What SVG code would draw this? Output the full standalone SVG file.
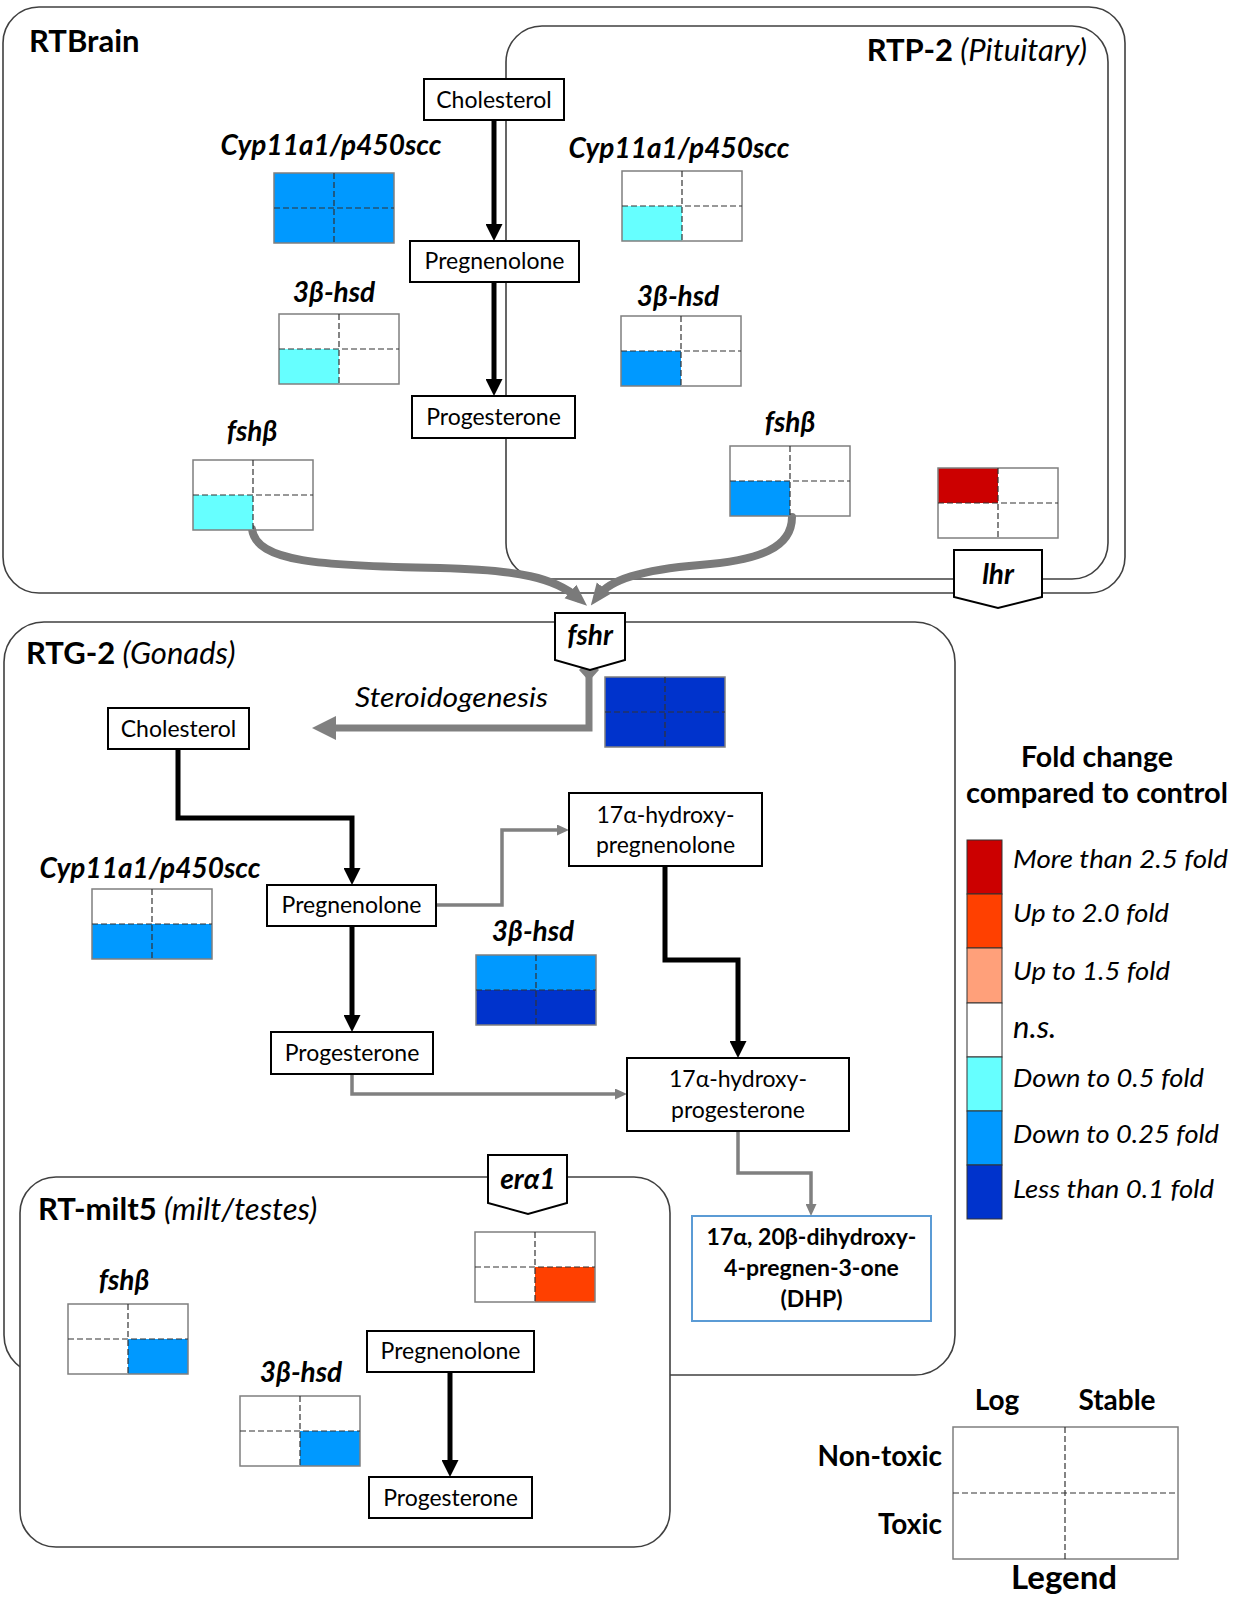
<svg xmlns="http://www.w3.org/2000/svg" width="1239" height="1598" viewBox="0 0 1239 1598">
<style>
text{font-family:Lato,"Open Sans","Noto Sans",sans-serif;fill:#000}
.region{fill:#fff;stroke:#404040;stroke-width:1.6}
.box{fill:#fff;stroke:#000;stroke-width:2}
.dhp{fill:#fff;stroke:#5B9BD5;stroke-width:2}
.node{font-size:23px;text-anchor:middle}
.bnode{font-size:23px;font-weight:bold;text-anchor:middle}
.gene{font-size:28px;font-weight:bold;font-style:italic;text-anchor:middle}
.rec{font-size:28px;font-weight:bold;font-style:italic;text-anchor:middle}
.title{font-size:31px;font-weight:bold}
.sub{font-size:31px;font-weight:normal;font-style:italic}
.leg{font-size:26px;font-style:italic}
.legb{font-size:28px;font-weight:bold}
.hm-border{fill:none;stroke:#7f7f7f;stroke-width:1.5}
.hm-dash{stroke:#333;stroke-width:1.2;stroke-dasharray:6 3;fill:none}
.c0{fill:#fff}.c1{fill:#66FFFF}.c2{fill:#0099FF}.c3{fill:#0033CC}.c4{fill:#CC0000}.c5{fill:#FF4000}.c6{fill:#FFA07A}
.blk{fill:none;stroke:#000;stroke-width:5}
.gry{fill:none;stroke:#808080;stroke-width:3.5}
.gryw{fill:none;stroke:#808080;stroke-width:7}
.curve{fill:none;stroke:#7a7a7a;stroke-width:8;stroke-linecap:round}
.bar{stroke:#333;stroke-width:1}
</style>
<defs>
<marker id="ahBlack" markerUnits="userSpaceOnUse" viewBox="0 0 17 17" markerWidth="17" markerHeight="17" refX="9" refY="8.5" orient="auto"><path d="M0,0 L17,8.5 L0,17 z" fill="#000"/></marker>
<marker id="ahGray" markerUnits="userSpaceOnUse" viewBox="0 0 12 11" markerWidth="12" markerHeight="11" refX="6" refY="5.5" orient="auto"><path d="M0,0 L12,5.5 L0,11 z" fill="#808080"/></marker>
<marker id="ahGrayBig" markerUnits="userSpaceOnUse" viewBox="0 0 24 24" markerWidth="24" markerHeight="24" refX="12" refY="12" orient="auto"><path d="M0,0 L24,12 L0,24 z" fill="#808080"/></marker>
<marker id="ahCurve" markerUnits="userSpaceOnUse" viewBox="0 0 22 20" markerWidth="22" markerHeight="20" refX="10" refY="10" orient="auto"><path d="M0,1 L22,10 L0,19 z" fill="#7a7a7a"/></marker>
<g id="hmGrid">
<rect class="hm-border" x="0" y="0" width="120" height="70"/>
<line class="hm-dash" x1="60" y1="0" x2="60" y2="70"/>
<line class="hm-dash" x1="0" y1="35" x2="120" y2="35"/>
</g>
</defs>

<!-- regions -->
<g id="region-RTBrain">
<rect class="region" x="3" y="7" width="1122" height="586" rx="36"/>
<text x="29" y="52" class="title">RTBrain</text>
</g>
<g id="region-RTP2">
<rect class="region" x="506" y="26" width="602" height="553" rx="36"/>
<text x="1087" y="61" text-anchor="end"><tspan class="title">RTP-2</tspan><tspan class="sub"> (Pituitary)</tspan></text>
</g>
<g id="region-RTG2">
<rect class="region" x="4" y="622" width="951" height="753" rx="40"/>
<text x="26" y="664"><tspan class="title">RTG-2</tspan><tspan class="sub"> (Gonads)</tspan></text>
</g>
<g id="region-RTmilt5">
<rect class="region" x="20" y="1177" width="650" height="370" rx="36"/>
<text x="38" y="1220"><tspan class="title">RT-milt5</tspan><tspan class="sub"> (milt/testes)</tspan></text>
</g>

<!-- connectors -->
<g id="connectors">
<path class="blk" d="M494 120 L494 233" marker-end="url(#ahBlack)"/>
<path class="blk" d="M494 282 L494 388" marker-end="url(#ahBlack)"/>
<path class="curve" d="M252 529 C256 562 320 566 440 568 C520 570 555 578 578 598" marker-end="url(#ahCurve)"/>
<path class="curve" d="M792 517 C792 548 760 560 700 565 C640 570 610 580 598 596" marker-end="url(#ahCurve)"/>
<path class="gryw" d="M589 672 L589 728 L324 728" marker-end="url(#ahGrayBig)"/>
<path d="M589 660 L599 670 L589 681 L579 670 z" fill="#808080"/>
<path class="blk" d="M178 749 L178 818 L352 818 L352 877" marker-end="url(#ahBlack)"/>
<path class="blk" d="M352 926 L352 1024" marker-end="url(#ahBlack)"/>
<path class="gry" d="M436 905 L502 905 L502 830 L563 830" marker-end="url(#ahGray)"/>
<path class="blk" d="M665 866 L665 960 L738 960 L738 1050" marker-end="url(#ahBlack)"/>
<path class="gry" d="M352 1074 L352 1094 L621 1094" marker-end="url(#ahGray)"/>
<path class="gry" d="M738 1131 L738 1173 L811 1173 L811 1210" marker-end="url(#ahGray)"/>
<path class="blk" d="M450 1372 L450 1469" marker-end="url(#ahBlack)"/>
</g>

<!-- RTBrain / RTP-2 nodes -->
<g id="top-cholesterol"><rect class="box" x="424" y="79" width="140" height="41"/><text class="node" x="494" y="108">Cholesterol</text></g>
<g id="top-pregnenolone"><rect class="box" x="410" y="241" width="169" height="41"/><text class="node" x="494.5" y="269">Pregnenolone</text></g>
<g id="top-progesterone"><rect class="box" x="412" y="396" width="163" height="42"/><text class="node" x="493.5" y="425">Progesterone</text></g>

<g id="brain-cyp"><text class="gene" x="331" y="155">Cyp11a1/p450scc</text>
<g transform="translate(274,173)"><rect class="c2" width="120" height="70"/><use href="#hmGrid"/></g></g>
<g id="brain-3bhsd"><text class="gene" x="334" y="302">3β-hsd</text>
<g transform="translate(279,314)"><rect class="c1" x="0" y="35" width="60" height="35"/><use href="#hmGrid"/></g></g>
<g id="brain-fshb"><text class="gene" x="252" y="441">fshβ</text>
<g transform="translate(193,460)"><rect class="c1" x="0" y="35" width="60" height="35"/><use href="#hmGrid"/></g></g>

<g id="rtp-cyp"><text class="gene" x="679" y="158">Cyp11a1/p450scc</text>
<g transform="translate(622,171)"><rect class="c1" x="0" y="35" width="60" height="35"/><use href="#hmGrid"/></g></g>
<g id="rtp-3bhsd"><text class="gene" x="678" y="306">3β-hsd</text>
<g transform="translate(621,316)"><rect class="c2" x="0" y="35" width="60" height="35"/><use href="#hmGrid"/></g></g>
<g id="rtp-fshb"><text class="gene" x="790" y="432">fshβ</text>
<g transform="translate(730,446)"><rect class="c2" x="0" y="35" width="60" height="35"/><use href="#hmGrid"/></g></g>
<g id="rtp-lhr">
<g transform="translate(938,468)"><rect class="c4" x="0" y="0" width="60" height="35"/><use href="#hmGrid"/></g>
<path class="box" d="M954 550 L1042 550 L1042 597 L998 608 L954 597 z"/>
<text class="rec" x="998" y="584">lhr</text>
</g>

<!-- RTG-2 nodes -->
<g id="fshr">
<path class="box" d="M555 613 L625 613 L625 660 L590 670 L555 660 z"/>
<text class="rec" x="590" y="645">fshr</text>
<g transform="translate(605,677)"><rect class="c3" width="120" height="70"/><use href="#hmGrid"/></g>
</g>
<g id="steroidogenesis-label"><text x="355" y="707" textLength="193" lengthAdjust="spacingAndGlyphs" style="font-size:27px;font-style:italic">Steroidogenesis</text></g>
<g id="rtg-cholesterol"><rect class="box" x="108" y="708" width="141" height="41"/><text class="node" x="178.5" y="737">Cholesterol</text></g>
<g id="rtg-pregnenolone"><rect class="box" x="267" y="885" width="169" height="41"/><text class="node" x="351.5" y="913">Pregnenolone</text></g>
<g id="rtg-progesterone"><rect class="box" x="271" y="1032" width="162" height="42"/><text class="node" x="352" y="1061">Progesterone</text></g>
<g id="rtg-17oh-preg"><rect class="box" x="569" y="793" width="193" height="73"/><text class="node" x="665.5" y="823">17α-hydroxy-</text><text class="node" x="665.5" y="853">pregnenolone</text></g>
<g id="rtg-17oh-prog"><rect class="box" x="627" y="1058" width="222" height="73"/><text class="node" x="738" y="1087">17α-hydroxy-</text><text class="node" x="738" y="1118">progesterone</text></g>
<g id="rtg-dhp"><rect class="dhp" x="692" y="1216" width="239" height="105"/>
<text class="bnode" x="811.5" y="1245">17α, 20β-dihydroxy-</text>
<text class="bnode" x="811.5" y="1276">4-pregnen-3-one</text>
<text class="bnode" x="811.5" y="1307">(DHP)</text></g>
<g id="rtg-cyp"><text class="gene" x="150" y="878">Cyp11a1/p450scc</text>
<g transform="translate(92,889)"><rect class="c2" x="0" y="35" width="120" height="35"/><use href="#hmGrid"/></g></g>
<g id="rtg-3bhsd"><text class="gene" x="533" y="941">3β-hsd</text>
<g transform="translate(476,955)"><rect class="c2" x="0" y="0" width="120" height="35"/><rect class="c3" x="0" y="35" width="120" height="35"/><use href="#hmGrid"/></g></g>

<!-- RT-milt5 nodes -->
<g id="era1">
<path class="box" d="M488 1155 L567 1155 L567 1203 L528 1214 L488 1203 z"/>
<text class="rec" x="528" y="1189">erα1</text>
<g transform="translate(475,1232)"><rect class="c5" x="60" y="35" width="60" height="35"/><use href="#hmGrid"/></g>
</g>
<g id="milt-fshb"><text class="gene" x="124" y="1290">fshβ</text>
<g transform="translate(68,1304)"><rect class="c2" x="60" y="35" width="60" height="35"/><use href="#hmGrid"/></g></g>
<g id="milt-3bhsd"><text class="gene" x="301" y="1382">3β-hsd</text>
<g transform="translate(240,1396)"><rect class="c2" x="60" y="35" width="60" height="35"/><use href="#hmGrid"/></g></g>
<g id="milt-pregnenolone"><rect class="box" x="367" y="1331" width="167" height="41"/><text class="node" x="450.5" y="1359">Pregnenolone</text></g>
<g id="milt-progesterone"><rect class="box" x="369" y="1477" width="163" height="41"/><text class="node" x="450.5" y="1506">Progesterone</text></g>

<!-- fold change legend -->
<g id="fold-legend">
<text class="legb" x="1097" y="767" text-anchor="middle" textLength="152" lengthAdjust="spacingAndGlyphs">Fold change</text>
<text class="legb" x="1097" y="803" text-anchor="middle" textLength="262" lengthAdjust="spacingAndGlyphs">compared to control</text>
<rect class="bar c4" x="967" y="840" width="35" height="54"/>
<rect class="bar c5" x="967" y="894" width="35" height="54"/>
<rect class="bar c6" x="967" y="948" width="35" height="55"/>
<rect class="bar c0" x="967" y="1003" width="35" height="54"/>
<rect class="bar c1" x="967" y="1057" width="35" height="54"/>
<rect class="bar c2" x="967" y="1111" width="35" height="54"/>
<rect class="bar c3" x="967" y="1165" width="35" height="54"/>
<text class="leg" x="1013" y="868" textLength="215" lengthAdjust="spacingAndGlyphs">More than 2.5 fold</text>
<text class="leg" x="1013" y="922" textLength="156" lengthAdjust="spacingAndGlyphs">Up to 2.0 fold</text>
<text class="leg" x="1013" y="980" textLength="157" lengthAdjust="spacingAndGlyphs">Up to 1.5 fold</text>
<text x="1013" y="1038" style="font-size:31px;font-style:italic">n.s.</text>
<text class="leg" x="1013" y="1087" textLength="191" lengthAdjust="spacingAndGlyphs">Down to 0.5 fold</text>
<text class="leg" x="1013" y="1143" textLength="206" lengthAdjust="spacingAndGlyphs">Down to 0.25 fold</text>
<text class="leg" x="1013" y="1198" textLength="201" lengthAdjust="spacingAndGlyphs">Less than 0.1 fold</text>
</g>

<!-- quadrant legend -->
<g id="quadrant-legend">
<text class="legb" x="997" y="1410" text-anchor="middle">Log</text>
<text class="legb" x="1117" y="1410" text-anchor="middle">Stable</text>
<text class="legb" x="942" y="1466" text-anchor="end">Non-toxic</text>
<text class="legb" x="942" y="1534" text-anchor="end">Toxic</text>
<rect class="hm-border" x="953" y="1427" width="225" height="132"/>
<line class="hm-dash" x1="1065" y1="1427" x2="1065" y2="1559"/>
<line class="hm-dash" x1="953" y1="1493" x2="1178" y2="1493"/>
<text x="1064" y="1589" text-anchor="middle" style="font-size:33px;font-weight:bold">Legend</text>
</g>
</svg>
